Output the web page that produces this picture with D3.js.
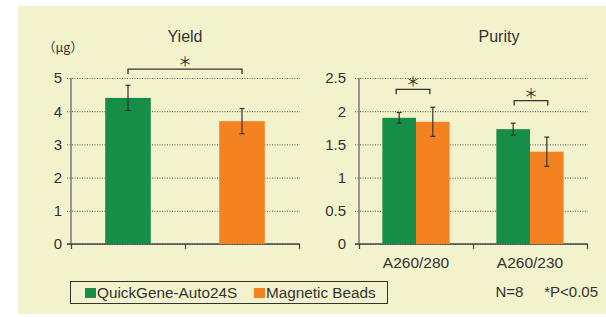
<!DOCTYPE html>
<html>
<head>
<meta charset="utf-8">
<script src="https://cdn.jsdelivr.net/npm/d3@7"></script>
<style>
  body { margin: 0; background: #fff; }
  text { font-family: "Liberation Sans", Arial, sans-serif; fill: #333; }
</style>
</head>
<body>
<script>
// data
const methods = ["QuickGene-Auto24S", "Magnetic Beads"];
const colors = ["#178e48", "#f58220"];

const yieldMean = [4.4, 3.7];
const yieldErr = [0.38, 0.38];
const yieldTicks = [0, 1, 2, 3, 4, 5];

const purityLabels = ["A260/280", "A260/230"];
const purityQG = [1.90, 1.73];
const purityQGErr = [0.08, 0.09];
const purityMB = [1.84, 1.39];
const purityMBErr = [0.22, 0.22];
const purityTicks = [0, 0.5, 1, 1.5, 2, 2.5];

const width = 606, height = 317;

const svg = d3.select("body").append("svg")
    .attr("width", width)
    .attr("height", height);

svg.append("rect")
    .attr("x", 18).attr("y", 6)
    .attr("width", width - 18).attr("height", height - 9)
    .attr("fill", "#f2f2cc");

function drawFrame(x, y, ticks, fmt, labelPad) {
    const g = svg.append("g");
    const [x0, x1] = x.range();

    // dotted grid + tick labels
    g.append("g")
        .attr("transform", `translate(${x0 - 4},0)`)
        .call(d3.axisLeft(y).tickValues(ticks).tickFormat(fmt)
            .tickSize(-(x1 - x0 + 5)).tickPadding(labelPad))
        .call(a => a.select(".domain").remove())
        .call(a => a.selectAll("line")
            .attr("stroke", "#555")
            .attr("stroke-dasharray", "1,1.5"))
        .call(a => a.selectAll("text")
            .style("font-size", "15px")
            .attr("fill", "#333"));

    // solid y axis
    g.append("line")
        .attr("x1", x0).attr("x2", x0)
        .attr("y1", y(0)).attr("y2", y.range()[1])
        .attr("stroke", "#777").attr("stroke-width", 1.5);

    // x axis with ticks at group boundaries
    g.append("g")
        .attr("transform", `translate(0,${y(0)})`)
        .call(d3.axisBottom(x).tickValues([0, 1, 2]).tickFormat("").tickSize(5))
        .call(a => a.select(".domain").remove())
        .call(a => a.selectAll("line").attr("stroke", "#444").attr("stroke-width", 1.2));
    g.append("line")
        .attr("x1", x0 - 4).attr("x2", x1 + 1)
        .attr("y1", y(0)).attr("y2", y(0))
        .attr("stroke", "#444").attr("stroke-width", 1.5);
    return g;
}

function errorBar(g, cx, y, v, e) {
    g.append("line")
        .attr("x1", cx).attr("x2", cx)
        .attr("y1", y(v - e)).attr("y2", y(v + e))
        .attr("stroke", "#333").attr("stroke-width", 1.2);
    [v - e, v + e].forEach(t => {
        g.append("line")
            .attr("x1", cx - 2.5).attr("x2", cx + 2.5)
            .attr("y1", y(t)).attr("y2", y(t))
            .attr("stroke", "#333").attr("stroke-width", 1.2);
    });
}

function bracket(g, xa, xb, yv, y) {
    const yy = y(yv);
    g.append("path")
        .attr("d", `M${xa},${yy + 5}V${yy}H${xb}V${yy + 5}`)
        .attr("fill", "none")
        .attr("stroke", "#333").attr("stroke-width", 1.3);
    g.append("text")
        .attr("x", (xa + xb) / 2).attr("y", yy - 3)
        .attr("text-anchor", "middle")
        .style("font-family", "'Noto Sans CJK JP', sans-serif")
        .style("font-size", "14px")
        .text("＊");
}

// ---------- Yield ----------
const xY = d3.scaleLinear().domain([0, 2]).range([71, 299]);
const yY = d3.scaleLinear().domain([0, 5]).range([244, 78]);
const gY = drawFrame(xY, yY, yieldTicks, d3.format("d"), 5);

const barWY = 0.4;
gY.selectAll("rect.bar")
    .data(yieldMean)
    .join("rect")
    .attr("class", "bar")
    .attr("x", (d, i) => xY(i + 0.5 - barWY / 2))
    .attr("width", xY(barWY) - xY(0))
    .attr("y", d => yY(d))
    .attr("height", d => yY(0) - yY(d))
    .attr("fill", (d, i) => colors[i]);

yieldMean.forEach((d, i) => errorBar(gY, xY(i + 0.5), yY, d, yieldErr[i]));
bracket(gY, xY(0.5), xY(1.5), 5.27, yY);

svg.append("text")
    .attr("x", 185).attr("y", 42)
    .attr("text-anchor", "middle")
    .style("font-size", "16px")
    .text("Yield");

svg.append("text")
    .attr("x", 43).attr("y", 52)
    .style("font-family", "'Noto Sans CJK JP', sans-serif")
    .style("font-size", "12.5px")
    .text("（μg）");

// ---------- Purity ----------
const xP = d3.scaleLinear().domain([0, 2]).range([359, 587]);
const yP = d3.scaleLinear().domain([0, 2.5]).range([244, 78]);
const gP = drawFrame(xP, yP, purityTicks, d => d, 9);

const barWP = 0.295;
const series = [
    {vals: purityQG, errs: purityQGErr, off: -barWP, color: colors[0]},
    {vals: purityMB, errs: purityMBErr, off: 0, color: colors[1]}
];
series.forEach(s => {
    gP.selectAll(null)
        .data(s.vals)
        .join("rect")
        .attr("x", (d, i) => xP(i + 0.5 + s.off))
        .attr("width", xP(barWP) - xP(0))
        .attr("y", d => yP(d))
        .attr("height", d => yP(0) - yP(d))
        .attr("fill", s.color);
    s.vals.forEach((d, i) => errorBar(gP, xP(i + 0.5 + s.off + barWP / 2), yP, d, s.errs[i]));
});
bracket(gP, xP(0.5 - barWP / 2) - 3, xP(0.5 + barWP / 2) - 3, 2.33, yP);
bracket(gP, xP(1.5 - barWP / 2) + 1, xP(1.5 + barWP / 2) + 1, 2.16, yP);

gP.selectAll("text.cat")
    .data(purityLabels)
    .join("text")
    .attr("class", "cat")
    .attr("x", (d, i) => xP(i + 0.5))
    .attr("y", 268)
    .attr("text-anchor", "middle")
    .style("font-size", "15.5px")
    .text(d => d);

svg.append("text")
    .attr("x", 499).attr("y", 42)
    .attr("text-anchor", "middle")
    .style("font-size", "16px")
    .text("Purity");

// ---------- legend ----------
const leg = svg.append("g");
leg.append("rect")
    .attr("x", 70.5).attr("y", 281.5)
    .attr("width", 317).attr("height", 22)
    .attr("fill", "none")
    .attr("stroke", "#333").attr("stroke-width", 1);
const legX = [85, 254];
methods.forEach((m, i) => {
    leg.append("rect")
        .attr("x", legX[i]).attr("y", 288)
        .attr("width", 11).attr("height", 10)
        .attr("fill", colors[i]);
    leg.append("text")
        .attr("x", legX[i] + 12).attr("y", 298)
        .style("font-size", "15.3px")
        .text(m);
});

svg.append("text")
    .attr("x", 598).attr("y", 297)
    .attr("text-anchor", "end")
    .style("font-size", "15px")
    .attr("xml:space", "preserve")
    .text("N=8     *P<0.05");
</script>
</body>
</html>
